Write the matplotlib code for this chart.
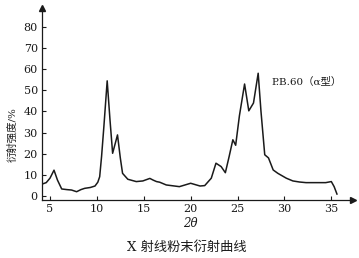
import matplotlib
matplotlib.use("Agg")
import matplotlib.pyplot as plt

two_theta = [4.15, 4.6, 5.0, 5.43, 5.8, 6.25, 6.8, 7.3, 7.84, 8.3, 8.7, 9.3, 9.8,
             10.1, 10.3, 10.5, 10.75, 11.1, 11.4, 11.68, 12.2, 12.5, 12.74, 13.3,
             14.2, 14.9, 15.65, 16.0, 16.36, 16.7, 17.4, 18.8, 20.0, 21.0, 21.5,
             22.2, 22.7, 23.25, 23.7, 24.1, 24.5, 24.8, 25.2, 25.75, 26.2, 26.7,
             27.2, 27.5, 27.9, 28.3, 28.8, 29.3, 30.2, 30.9, 31.6, 32.3, 34.4,
             35.0, 35.3, 35.6]
intensity = [5.6, 6.3, 8.4, 12.2, 7.5, 3.3, 3.0, 2.8, 2.0, 3.0, 3.6, 4.0, 4.7,
             6.5, 9.1, 18.6, 33.0, 54.5, 36.0, 20.2, 28.9, 18.0, 10.7, 7.9,
             6.8, 7.1, 8.3, 7.5, 6.8, 6.5, 5.2, 4.4, 6.0, 4.7, 4.9,
             8.4, 15.5, 13.9, 11.0, 18.6, 26.6, 24.0, 38.0, 53.0, 40.3, 44.0,
             58.1, 40.0, 19.5, 18.0, 12.3, 10.7, 8.4, 7.1, 6.6, 6.3, 6.3,
             6.8, 4.4, 0.9]
x_ticks = [5, 10, 15, 20, 25, 30, 35]
y_ticks = [0, 10, 20, 30, 40, 50, 60, 70, 80]
series_label = "P.B.60（α型）"
y_label = "衍射强度/%"
x_label = "2θ"
title = "X 射线粉末衍射曲线"

fonts = ['DejaVu Serif', 'Noto Sans CJK SC', 'DejaVu Sans']
plt.rcParams['font.family'] = fonts

fig = plt.figure(figsize=(3.59, 2.58), dpi=100)
ax = fig.add_axes([0.117, 0.225, 0.866, 0.744])
col = '#1a1a1a'
ax.plot(two_theta, intensity, color=col, lw=1.1)
ax.set_xlim(4.15, 37.3)
ax.set_ylim(-1.9, 89)
ax.spines['top'].set_visible(False)
ax.spines['right'].set_visible(False)
for s in ['left', 'bottom']:
    ax.spines[s].set_linewidth(0.9)
    ax.spines[s].set_color(col)
ax.set_xticks(x_ticks)
ax.set_yticks(y_ticks)
ax.tick_params(direction='in', length=3, width=0.8, labelsize=8, pad=3, colors=col)
ax.plot(1, -1.9, '>', color=col, ms=4, transform=ax.get_yaxis_transform(), clip_on=False)
ax.plot(4.15, 1, '^', color=col, ms=4, transform=ax.get_xaxis_transform(), clip_on=False)

ax.text(28.6, 54, series_label, fontsize=7.5, color=col, va='center', ha='left')
fig.text(0.034, 0.48, y_label, rotation=90, fontsize=7.5, color=col, ha='center', va='center')
fig.text(0.531, 0.132, x_label, fontsize=8.5, style='italic', color=col, ha='center', va='center')
fig.text(0.52, 0.039, title, fontsize=9.5, color=col, ha='center', va='center')

fig.savefig('out.png', dpi=100)
